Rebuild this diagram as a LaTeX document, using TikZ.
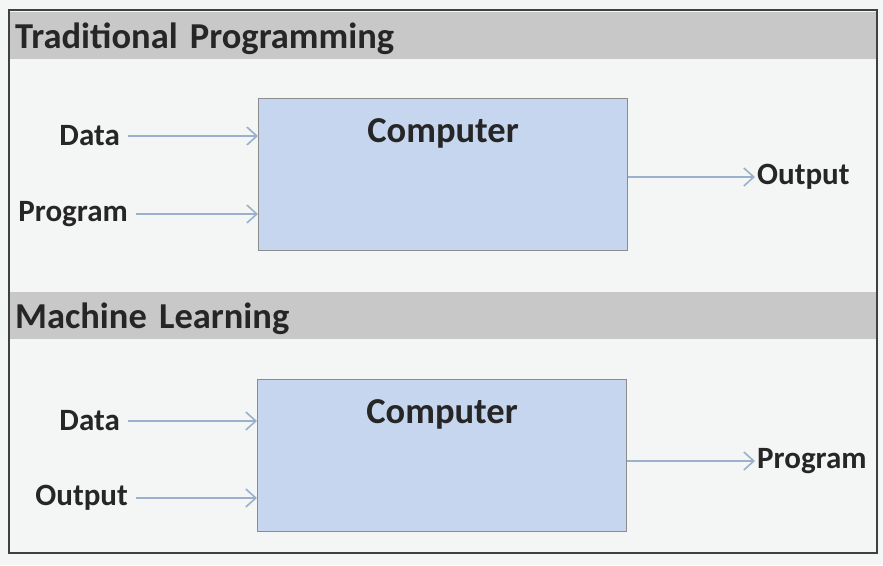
\documentclass[tikz,border=0pt]{standalone}
\usepackage{fontspec}
\setmainfont{Carlito}
\usetikzlibrary{positioning,arrows.meta,calc}

\definecolor{bgcol}{HTML}{F4F6F5}
\definecolor{headgray}{HTML}{C8C8C8}
\definecolor{boxblue}{HTML}{C6D6EE}
\definecolor{arrblue}{HTML}{9AB0CC}

\begin{document}
\begin{tikzpicture}[x=1pt, y=-1pt,
  head/.style={fill=headgray, anchor=north west, minimum height=46pt, text width=856pt, text height=31pt, inner sep=5pt, align=left, font=\bfseries\fontsize{36.5}{40}\selectfont, text=black!85},
  comp/.style={draw=black!45, line width=1.2pt, fill=boxblue, minimum width=369pt, minimum height=152pt, anchor=north west},
  title/.style={font=\bfseries\fontsize{36.5}{40}\selectfont, text=black!85},
  lbl/.style={font=\bfseries\fontsize{31}{34}\selectfont, text=black!85, inner sep=2pt},
  inarr/.style={-{Straight Barb[length=10pt, width=18pt]}, draw=arrblue, line width=1.6pt, shorten <=6pt},
  outarr/.style={-{Straight Barb[length=10pt, width=18pt]}, draw=arrblue, line width=1.6pt},
]
\fill[bgcol] (0,0) rectangle (883,565);
\useasboundingbox (0,0) rectangle (883,565);

% two bands
\node[head] (head1) at (10,12) {Traditional Programming};
\node[head] (head2) at (10,292) {Machine Learning};
\draw[black!75, line width=1.5pt] (9,10) rectangle (877,553);

% traditional programming
\node[comp] (comp1) at (258,98) {};
\node[title, below=17pt of comp1.north] (title1) {Computer};
\node[lbl, anchor=east] (data1) at (122,136) {Data};
\node[lbl, anchor=east] (prog1) at (130,214) {Program};
\node[lbl, anchor=west] (out1) at (755,177) {Output};
\draw[inarr] (data1.east) -- (data1.east -| comp1.west);
\draw[inarr] (prog1.east) -- (prog1.east -| comp1.west);
\draw[outarr] (comp1.east |- out1.west) -- (out1.west);

% machine learning
\node[comp] (comp2) at (257,379) {};
\node[title, below=17pt of comp2.north] (title2) {Computer};
\node[lbl, anchor=east] (data2) at (122,421) {Data};
\node[lbl, anchor=east] (out2) at (130,498) {Output};
\node[lbl, anchor=west] (prog2) at (755,461) {Program};
\draw[inarr] (data2.east) -- (data2.east -| comp2.west);
\draw[inarr] (out2.east) -- (out2.east -| comp2.west);
\draw[outarr] (comp2.east |- prog2.west) -- (prog2.west);
\end{tikzpicture}
\end{document}
